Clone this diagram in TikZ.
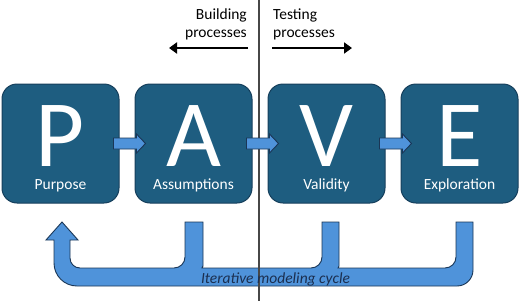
\documentclass[tikz,border=0pt]{standalone}
\usepackage{fontspec}
\setmainfont{Carlito}
\usetikzlibrary{calc,arrows.meta}
\definecolor{boxfill}{HTML}{1E5D80}
\definecolor{boxline}{HTML}{163F5C}
\definecolor{arrfill}{HTML}{4F93DA}
\definecolor{arrline}{HTML}{1A3656}
\definecolor{cyctext}{HTML}{1B2F50}
\tikzset{
  letterbox/.style={draw=boxline, line width=1pt, fill=boxfill, rounded corners=15pt,
    minimum width=117pt, minimum height=119pt, inner sep=0pt},
  bigletter/.style={text=white, font=\fontsize{95}{100}\selectfont, inner sep=0pt, anchor=base},
  boxlabel/.style={text=white, font=\fontsize{15.5}{18}\selectfont, inner sep=0pt, anchor=base},
  blockarr/.style={draw=arrline, line width=0.9pt, fill=arrfill, line join=miter},
  toptext/.style={font=\fontsize{15.5}{18}\selectfont, inner sep=0pt},
  dirarrow/.style={line width=2pt, -{Triangle[length=8pt,width=11pt]}},
  divider/.style={line width=1.3pt, draw=black!72}
}
\newcommand\smallblockarrow[2]{%
  \path[blockarr] let \p1=(#1.east), \p2=(#2.west) in
    (\x1-6pt,\y1+5.5pt) -- (\x2+2pt,\y1+5.5pt) -- (\x2+2pt,\y1+9.5pt) -- (\x2+11pt,\y1)
    -- (\x2+2pt,\y1-9.5pt) -- (\x2+2pt,\y1-5.5pt) -- (\x1-6pt,\y1-5.5pt) -- cycle;}
\begin{document}
\begin{tikzpicture}[x=1pt,y=1pt]
\useasboundingbox (0,0) rectangle (520,301);
% big iterative cycle arrow
\path[blockarr]
  (62,79) -- (78,61) -- (70,61) -- (70,43)
  arc[start angle=180,end angle=270,radius=10] -- (174,33)
  arc[start angle=270,end angle=360,radius=11] -- (185,79) -- (203,79) -- (203,35) -- (202,33)
  -- (311,33) arc[start angle=270,end angle=360,radius=11] -- (322,79) -- (339,79) -- (339,35) -- (338,33)
  -- (445,33) arc[start angle=270,end angle=360,radius=11] -- (456,79) -- (473,79) -- (473,31)
  arc[start angle=0,end angle=-90,radius=16] -- (77,15)
  arc[start angle=270,end angle=180,radius=23] -- (54,61) -- (46,61) -- cycle;
% divider
\coordinate (dtop) at (259,301);
\coordinate (dbot) at (259,0);
\draw[divider] (dtop) -- (dbot);
% boxes
\node[letterbox] (P) at (60.5,157.5) {};
\node[letterbox] (A) at (193.5,157.5) {};
\node[letterbox] (V) at (326.5,157.5) {};
\node[letterbox] (E) at (459.5,157.5) {};
\foreach \b/\l/\t in {P/P/Purpose, A/A/Assumptions, V/V/Validity, E/E/Exploration}{
  \node[bigletter] (\b-letter) at ($(\b.center)+(0,-22.5)$) {\l};
  \node[boxlabel] (\b-label) at ($(\b.center)+(0,-45.5)$) {\t};
}
\smallblockarrow{P}{A}
\smallblockarrow{A}{V}
\smallblockarrow{V}{E}
% top texts and arrows
\node[toptext, anchor=base east] (build) at (247,282)
  {\begin{tabular}[t]{@{}r@{}}Building\\processes\end{tabular}};
\node[toptext, anchor=base west] (test) at (273,282)
  {\begin{tabular}[t]{@{}l@{}}Testing\\processes\end{tabular}};
\coordinate (bstart) at (248,253);
\coordinate (bend) at (169,253);
\coordinate (tstart) at (272,253);
\coordinate (tend) at (352,253);
\draw[dirarrow] (bstart) -- (bend);
\draw[dirarrow] (tstart) -- (tend);
% cycle label
\node[toptext, text=cyctext, font=\fontsize{15.5}{18}\selectfont\itshape, anchor=base] (cycle) at (275.5,18) {Iterative modeling cycle};
\end{tikzpicture}
\end{document}
